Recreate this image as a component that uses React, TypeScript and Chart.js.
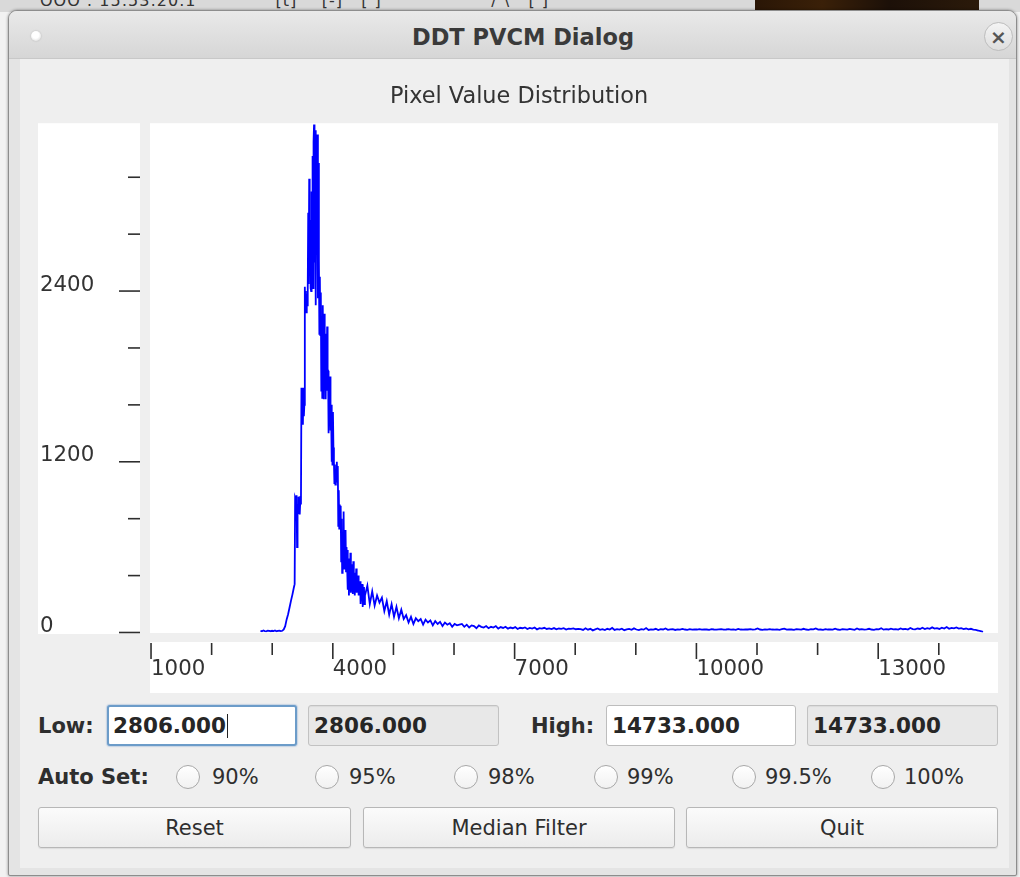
import React, { useEffect, useRef } from 'react';
import { Chart, registerables } from 'chart.js';

Chart.register(...registerables);

// ---------- data ----------
const riseStart = 2806;
const riseStep = 24;
const riseCounts = [12, 9, 14, 10, 8, 13, 11, 9, 12, 10, 14, 9, 11, 13, 10, 12, 22, 45, 92, 128, 176, 224, 268, 318];

const peakStart = 3370;
const peakStep = 8;
const peakCounts = [
  340, 950,
  940, 880, 965, 600, 900, 840, 955, 870, 930, 830, 960, 900,
  1720, 1480, 1650, 1460, 1720, 1520, 1600,
  2430, 2260, 2400, 2250, 2380, 2300, 2420,
  2950, 2450, 3190, 2600, 2900, 2420,
  2400, 3100, 2500, 3350, 2420, 3450, 3570, 2600, 3520,
  3530, 2300, 3400, 2700, 3500, 2350, 3300,
  2620, 2100, 2500, 2090,
  2390, 1700, 2200, 1650, 2300, 1900, 1640,
  2240, 1800, 2100, 1640, 2000, 1700, 2150, 1850,
  1840, 1400, 1700, 1500, 1800, 1420,
  1600, 1200, 1450, 1180, 1550, 1300,
  1200, 1050, 1180, 1040, 1150, 1100, 1200, 1060,
  1170, 750, 1000, 730, 900, 800,
  890, 500, 800, 420, 700, 550, 850, 450, 650, 480, 720, 430, 600, 500,
  580, 300, 520, 260, 450, 350, 560, 280, 480, 320, 400, 270, 500, 300, 420, 260, 380, 330, 450, 280, 350, 300, 400, 260, 330, 290,
  360, 200, 300, 220, 340, 180, 280, 240, 320, 200, 260,
];

const tailStart = 4570;
const tailStep = 40;
const tailCounts = [
  330, 200, 290, 190, 260, 210,
  245, 150, 220, 125, 200, 110, 180, 100, 160, 95,
  122, 70, 110, 60, 100, 80, 95, 55, 90, 70, 85, 50, 80, 60, 75, 45, 70, 55, 65, 40, 60, 50, 55,
  60, 40, 55, 35, 50, 45, 30, 50, 40, 35, 45, 30, 40, 35, 45, 28, 38, 32, 40, 27, 35, 30, 38, 25, 33, 30, 36, 24, 32, 28, 35, 22, 30, 27, 33, 25, 29, 24, 31, 22, 28, 26, 30, 21, 27, 25, 29, 23, 26,
  24, 18, 30, 20, 26, 15, 22, 28, 19, 24,
  17, 26, 21, 32, 18, 23, 20, 27, 16, 22,
  25, 19, 29, 21, 17, 24, 20, 31, 18, 22,
  20, 26, 17, 23, 21, 28, 19, 22, 24, 18,
  22, 20, 25, 21, 19, 23, 20, 22, 21, 24,
  20, 22, 21, 19, 23, 21, 20, 22, 24, 20,
  21, 23, 20, 22, 19, 25, 21, 20, 22, 21,
  23, 20, 22, 28, 21, 19, 22, 20, 24, 21,
  20, 22, 19, 23, 27, 20, 22, 21, 19, 24,
  22, 20, 26, 21, 19, 23, 22, 29, 20, 21,
  19, 24, 21, 22, 20, 27, 21, 19, 23, 22,
  20, 25, 22, 19, 28, 21, 23, 20, 22, 26,
  21, 19, 24, 22, 30, 20, 23, 21, 27, 22,
  24, 20, 29, 23, 26, 21, 32, 24, 22, 28,
  25, 33, 24, 30, 26, 36, 27, 31, 25, 34,
  28, 38, 26, 32, 29, 35, 27, 30, 24, 28,
  22, 26, 20, 18, 14, 9, 4,
];

const xMin = 983;
const xMax = 14977;
const yMin = 0;
const yMax = 3580;
const xTickValues = [1000, 2000, 3000, 4000, 5000, 6000, 7000, 8000, 9000, 10000, 11000, 12000, 13000, 14000];
const xLabelValues = [1000, 4000, 7000, 10000, 13000];
const yTickValues = [0, 400, 800, 1200, 1600, 2000, 2400, 2800, 3200];
const yLabelValues = [0, 1200, 2400];

const windowTitle = 'DDT PVCM Dialog';
const chartTitle = 'Pixel Value Distribution';
const lowLabel = 'Low:';
const highLabel = 'High:';
const lowValue = '2806.000';
const highValue = '14733.000';
const autoSetLabel = 'Auto Set:';
const autoSetOptions = ['90%', '95%', '98%', '99%', '99.5%', '100%'];
const buttonLabels = ['Reset', 'Median Filter', 'Quit'];

// ---------- layout ----------
const FONT = '"DejaVu Sans", "Noto Sans", sans-serif';
const radioLefts = [176, 315, 454, 594, 732, 871];
const radioLabelLefts = [212, 349, 488, 627, 765, 904];
const buttonBoxes = [
  [38, 313],
  [363, 312],
  [686, 312],
];

const abs = (l: number, t: number, w: number, h: number): React.CSSProperties => ({
  position: 'absolute',
  left: l,
  top: t,
  width: w,
  height: h,
  boxSizing: 'border-box',
});

function Field({ left, width, value, kind }: { left: number; width: number; value: string; kind: 'focus' | 'edit' | 'ro' }) {
  const style: React.CSSProperties = {
    ...abs(left, 705, width, 41),
    borderRadius: 3,
    display: 'flex',
    alignItems: 'center',
    paddingLeft: kind === 'focus' ? 4 : 5,
    fontWeight: 'bold',
    fontSize: 21.5,
    color: '#262626',
    whiteSpace: 'nowrap',
  };
  if (kind === 'focus') {
    style.border = '2px solid #6c9cc9';
    style.background = '#ffffff';
    style.boxShadow = '0 0 1px 1px rgba(120,160,210,0.35)';
  } else if (kind === 'edit') {
    style.border = '1px solid #bdbdbd';
    style.background = '#ffffff';
  } else {
    style.border = '1px solid #c2c2c2';
    style.background = '#e8e8e8';
    style.boxShadow = 'inset 0 1px 1px rgba(0,0,0,0.06)';
  }
  return (
    <div style={style}>
      <span>{value}</span>
      {kind === 'focus' && <span style={{ display: 'inline-block', width: 1.5, height: 24, background: '#222', marginLeft: 1 }} />}
    </div>
  );
}

export default function App() {
  const canvasRef = useRef<HTMLCanvasElement>(null);

  useEffect(() => {
    const canvas = canvasRef.current;
    if (!canvas) return;
    const points = [
      ...riseCounts.map((c, i) => ({ x: riseStart + i * riseStep, y: c })),
      ...peakCounts.map((c, i) => ({ x: peakStart + i * peakStep, y: c })),
      ...tailCounts.map((c, i) => ({ x: tailStart + i * tailStep, y: c })),
    ];

    const panelPlugin = {
      id: 'panels',
      beforeDraw(chart: any) {
        const { ctx, chartArea: a } = chart;
        ctx.save();
        ctx.fillStyle = '#ffffff';
        ctx.fillRect(a.left, a.top, a.right - a.left, a.bottom - a.top + 0.5);
        ctx.fillRect(0, a.top, a.left - 10, a.bottom - a.top + 1.5);
        ctx.fillRect(a.left, a.bottom + 9.5, a.right - a.left, 51);
        ctx.restore();
      },
      afterDraw(chart: any) {
        const { ctx, chartArea: a, scales } = chart;
        ctx.save();
        ctx.strokeStyle = '#2e2e2e';
        ctx.lineWidth = 1.6;
        yTickValues.forEach((v) => {
          const py = scales.y.getPixelForValue(v);
          const len = yLabelValues.includes(v) ? 21 : 12;
          ctx.beginPath();
          ctx.moveTo(a.left - 10 - len, py);
          ctx.lineTo(a.left - 10, py);
          ctx.stroke();
        });
        xTickValues.forEach((v) => {
          const px = scales.x.getPixelForValue(v);
          const len = xLabelValues.includes(v) ? 16 : 12;
          ctx.beginPath();
          ctx.moveTo(px, a.bottom + 10.5);
          ctx.lineTo(px, a.bottom + 10.5 + len);
          ctx.stroke();
        });
        ctx.restore();
      },
    };

    const tickFont = { family: FONT, size: 21.3 };
    const chart = new Chart(canvas, {
      type: 'line',
      data: {
        datasets: [
          {
            data: points,
            borderColor: '#0000ff',
            borderWidth: 1.8,
            pointRadius: 0,
            fill: false,
            tension: 0,
          },
        ],
      },
      options: {
        animation: false,
        responsive: false,
        maintainAspectRatio: false,
        events: [],
        layout: { padding: { left: 2, right: 2, top: 0, bottom: 0 } },
        plugins: {
          legend: { display: false },
          tooltip: { enabled: false },
          title: {
            display: true,
            text: chartTitle,
            color: '#333333',
            font: { family: FONT, size: 22.4, weight: 'normal' },
            padding: { top: 4, bottom: 12.3 },
          },
        },
        scales: {
          x: {
            type: 'linear',
            min: xMin,
            max: xMax,
            grid: { display: false, drawTicks: false, tickLength: 0 },
            border: { display: false },
            afterBuildTicks: (s: any) => {
              s.ticks = xTickValues.map((v) => ({ value: v }));
            },
            afterFit: (s: any) => {
              s.height = 63.5;
            },
            ticks: {
              align: 'start',
              padding: 24,
              labelOffset: 0,
              maxRotation: 0,
              minRotation: 0,
              autoSkip: false,
              color: '#333333',
              font: tickFont,
              callback: (v: any) => (xLabelValues.includes(Number(v)) ? String(v) : ''),
            },
          },
          y: {
            type: 'linear',
            min: yMin,
            max: yMax,
            grid: { display: false, drawTicks: false, tickLength: 0 },
            border: { display: false },
            afterBuildTicks: (s: any) => {
              s.ticks = yTickValues.map((v) => ({ value: v }));
            },
            afterFit: (s: any) => {
              s.width = 110;
            },
            ticks: {
              crossAlign: 'far',
              labelOffset: -6,
              autoSkip: false,
              color: '#333333',
              font: tickFont,
              callback: (v: any) => (yLabelValues.includes(Number(v)) ? String(v) : ''),
            },
          },
        },
      } as any,
      plugins: [panelPlugin],
    });
    return () => chart.destroy();
  }, []);

  const labelStyle = (l: number, t: number, w: number, h: number, bold: boolean): React.CSSProperties => ({
    ...abs(l, t, w, h),
    display: 'flex',
    alignItems: 'center',
    fontSize: 21,
    fontWeight: bold ? 'bold' : 'normal',
    color: '#2e2e2e',
    whiteSpace: 'nowrap',
  });

  return (
    <div style={{ position: 'fixed', left: 0, top: 0, width: 1020, height: 877, overflow: 'hidden', background: '#f2f2f2', fontFamily: FONT }}>
      {/* desktop strip behind the dialog */}
      <div style={{ ...abs(0, 0, 1020, 12), background: '#d9d9d9' }} />
      <div style={{ ...abs(755, 0, 224, 11), background: 'linear-gradient(90deg,#2a1606,#3a2008 30%,#1c1008 60%,#2b1a0a)' }} />
      <div style={{ ...abs(40, -9, 700, 18), fontSize: 16, color: '#333', letterSpacing: 1, whiteSpace: 'nowrap' }}>
        OOO : 15:53:20.1 &nbsp;&nbsp;&nbsp;&nbsp;&nbsp;&nbsp;&nbsp;&nbsp;&nbsp;&nbsp;&nbsp; [t] &nbsp;&nbsp; [-] &nbsp; [ ] &nbsp;&nbsp;&nbsp;&nbsp;&nbsp;&nbsp;&nbsp;&nbsp;&nbsp;&nbsp;&nbsp;&nbsp;&nbsp;&nbsp;&nbsp;&nbsp; / \ &nbsp; [ ]
      </div>

      {/* dialog window */}
      <div
        style={{
          ...abs(8, 10, 1009, 866),
          background: '#e4e4e4',
          border: '1px solid #8d8d8d',
          borderRadius: '9px 9px 2px 2px',
          boxShadow: '0 0 3px rgba(0,0,0,0.45)',
          overflow: 'hidden',
        }}
      >
        {/* title bar */}
        <div style={{ ...abs(0, 0, 1009, 48), background: 'linear-gradient(#e9e9e9, #d6d6d6)', borderBottom: '1px solid #c8c8c8' }} />
        <div
          style={{
            ...abs(22, 20, 10, 10),
            borderRadius: '50%',
            background: 'radial-gradient(circle at 45% 40%, #ffffff 40%, #d0d0d0 100%)',
            boxShadow: '0 0 2px rgba(0,0,0,0.2)',
          }}
        />
        <div style={{ ...abs(314, 6, 400, 40), display: 'flex', alignItems: 'center', justifyContent: 'center', fontWeight: 'bold', fontSize: 22.5, color: '#3a3a3a' }}>
          {windowTitle}
        </div>
        <div
          style={{
            ...abs(975, 11, 29, 29),
            borderRadius: '50%',
            border: '1.5px solid #bdbdbd',
            background: 'linear-gradient(#f4f4f4, #dedede)',
            display: 'flex',
            alignItems: 'center',
            justifyContent: 'center',
            color: '#555',
            fontSize: 20,
            fontWeight: 'bold',
            lineHeight: 1,
          }}
        >
          ×
        </div>
        {/* content panel */}
        <div style={{ ...abs(11, 48, 989, 809), background: '#efefef' }} />
      </div>

      {/* chart */}
      <canvas
        ref={canvasRef}
        width={962}
        height={616}
        style={{ position: 'absolute', left: 38, top: 80, width: 962, height: 616 }}
      />

      {/* low / high row */}
      <div style={labelStyle(38, 705, 70, 41, true)}>{lowLabel}</div>
      <Field left={107} width={190} value={lowValue} kind="focus" />
      <Field left={308} width={191} value={lowValue} kind="ro" />
      <div style={labelStyle(531, 705, 75, 41, true)}>{highLabel}</div>
      <Field left={606} width={190} value={highValue} kind="edit" />
      <Field left={807} width={191} value={highValue} kind="ro" />

      {/* auto set row */}
      <div style={labelStyle(38, 763, 140, 28, true)}>{autoSetLabel}</div>
      {autoSetOptions.map((opt, i) => (
        <React.Fragment key={opt}>
          <div
            style={{
              ...abs(radioLefts[i], 765, 24, 24),
              borderRadius: '50%',
              border: '1px solid #a8a8a8',
              background: 'linear-gradient(#ffffff, #f1f1f1)',
            }}
          />
          <div style={labelStyle(radioLabelLefts[i], 763, 90, 28, false)}>{opt}</div>
        </React.Fragment>
      ))}

      {/* buttons */}
      {buttonLabels.map((b, i) => (
        <div
          key={b}
          style={{
            ...abs(buttonBoxes[i][0], 807, buttonBoxes[i][1], 41),
            border: '1px solid #b7b7b7',
            borderRadius: 3,
            background: 'linear-gradient(#fbfbfb, #ececec)',
            boxShadow: '0 1px 1px rgba(0,0,0,0.08)',
            display: 'flex',
            alignItems: 'center',
            justifyContent: 'center',
            fontSize: 21,
            color: '#2e2e2e',
          }}
        >
          {b}
        </div>
      ))}
    </div>
  );
}
